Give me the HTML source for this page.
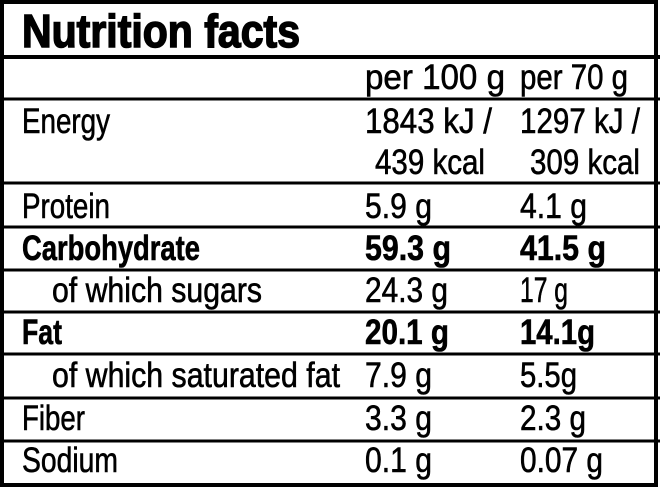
<!DOCTYPE html>
<html><head><style>html,body{margin:0;padding:0;background:#fff}svg{display:block}</style></head><body>
<svg width="660" height="488" viewBox="0 0 660 488" xmlns="http://www.w3.org/2000/svg" font-family="Liberation Sans, sans-serif" fill="#000">
<rect x="0" y="0" width="660" height="488" fill="#fff"/>
<rect x="2" y="2" width="654" height="483" fill="none" stroke="#000" stroke-width="4"/>
<g stroke="#000">
<line x1="0" y1="57" x2="660" y2="57" stroke-width="4"/>
<line x1="0" y1="99" x2="660" y2="99" stroke-width="3"/>
<line x1="0" y1="183" x2="660" y2="183" stroke-width="3"/>
<line x1="0" y1="227" x2="660" y2="227" stroke-width="3"/>
<line x1="0" y1="270" x2="660" y2="270" stroke-width="3"/>
<line x1="0" y1="312" x2="660" y2="312" stroke-width="3"/>
<line x1="0" y1="354" x2="660" y2="354" stroke-width="3"/>
<line x1="0" y1="398" x2="660" y2="398" stroke-width="3"/>
<line x1="0" y1="441" x2="660" y2="441" stroke-width="3"/>
</g>
<text x="22" y="47" font-size="46" font-weight="bold" stroke="#000" stroke-width="1.5" textLength="278" lengthAdjust="spacingAndGlyphs">Nutrition facts</text>
<g font-size="35" stroke="#000" stroke-width="0.6">
<text x="365" y="89" textLength="140" lengthAdjust="spacingAndGlyphs">per 100 g</text>
<text x="520" y="89" textLength="108" lengthAdjust="spacingAndGlyphs">per 70 g</text>
<text x="22" y="133" textLength="88" lengthAdjust="spacingAndGlyphs">Energy</text>
<text x="365" y="133" textLength="127" lengthAdjust="spacingAndGlyphs">1843 kJ /</text>
<text x="520" y="133" textLength="120" lengthAdjust="spacingAndGlyphs">1297 kJ /</text>
<text x="375" y="174" textLength="110" lengthAdjust="spacingAndGlyphs">439 kcal</text>
<text x="530" y="174" textLength="110" lengthAdjust="spacingAndGlyphs">309 kcal</text>
<text x="22" y="218" textLength="88" lengthAdjust="spacingAndGlyphs">Protein</text>
<text x="365" y="218" textLength="67" lengthAdjust="spacingAndGlyphs">5.9 g</text>
<text x="520" y="218" textLength="67" lengthAdjust="spacingAndGlyphs">4.1 g</text>
<text x="22" y="260" font-weight="bold" textLength="178" lengthAdjust="spacingAndGlyphs">Carbohydrate</text>
<text x="365" y="260" font-weight="bold" textLength="86" lengthAdjust="spacingAndGlyphs">59.3 g</text>
<text x="520" y="260" font-weight="bold" textLength="86" lengthAdjust="spacingAndGlyphs">41.5 g</text>
<text x="52" y="302" textLength="210" lengthAdjust="spacingAndGlyphs">of which sugars</text>
<text x="365" y="302" textLength="83" lengthAdjust="spacingAndGlyphs">24.3 g</text>
<text x="520" y="302" textLength="48" lengthAdjust="spacingAndGlyphs">17 g</text>
<text x="22" y="344" font-weight="bold" textLength="40" lengthAdjust="spacingAndGlyphs">Fat</text>
<text x="365" y="344" font-weight="bold" textLength="84" lengthAdjust="spacingAndGlyphs">20.1 g</text>
<text x="520" y="344" font-weight="bold" textLength="75" lengthAdjust="spacingAndGlyphs">14.1g</text>
<text x="52" y="387" textLength="288" lengthAdjust="spacingAndGlyphs">of which saturated fat</text>
<text x="365" y="387" textLength="67" lengthAdjust="spacingAndGlyphs">7.9 g</text>
<text x="520" y="387" textLength="57" lengthAdjust="spacingAndGlyphs">5.5g</text>
<text x="22" y="430" textLength="63" lengthAdjust="spacingAndGlyphs">Fiber</text>
<text x="365" y="430" textLength="67" lengthAdjust="spacingAndGlyphs">3.3 g</text>
<text x="520" y="430" textLength="66" lengthAdjust="spacingAndGlyphs">2.3 g</text>
<text x="22" y="472" textLength="96" lengthAdjust="spacingAndGlyphs">Sodium</text>
<text x="365" y="472" textLength="67" lengthAdjust="spacingAndGlyphs">0.1 g</text>
<text x="520" y="472" textLength="83" lengthAdjust="spacingAndGlyphs">0.07 g</text>
</g>
</svg>
</body></html>
